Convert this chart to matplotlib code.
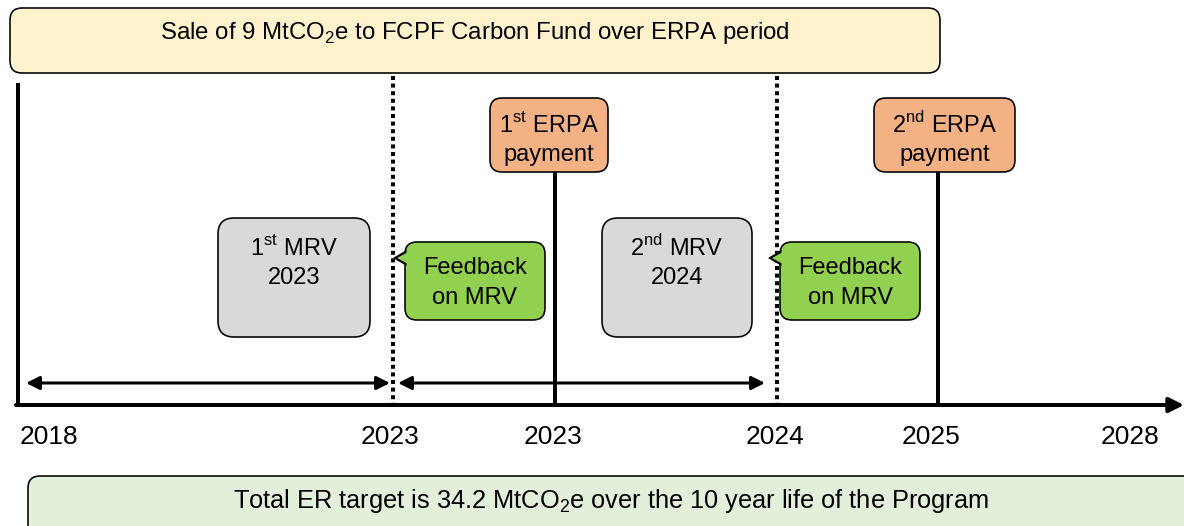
import matplotlib
matplotlib.use("Agg")
import matplotlib.pyplot as plt
from matplotlib.patches import FancyBboxPatch, Polygon, FancyArrowPatch

FONT = ["Liberation Sans", "DejaVu Sans"]
plt.rcParams["font.family"] = FONT
plt.rcParams["mathtext.fontset"] = "custom"
plt.rcParams["mathtext.rm"] = "Liberation Sans"

# timeline content
year_labels = ["2018", "2023", "2023", "2024", "2025", "2028"]
top_text = r"Sale of 9 MtCO$_{\mathrm{2}}$e to FCPF Carbon Fund over ERPA period"
bottom_text = r"Total ER target is 34.2 MtCO$_{\mathrm{2}}$e over the 10 year life of the Program"
payment_texts = [r"1$^{\mathrm{st}}$ ERPA" + "\npayment", r"2$^{\mathrm{nd}}$ ERPA" + "\npayment"]
mrv_texts = [r"1$^{\mathrm{st}}$ MRV" + "\n2023", r"2$^{\mathrm{nd}}$ MRV" + "\n2024"]
feedback_texts = ["Feedback\non MRV", "Feedback\non MRV"]

# layout (pixel coordinates)
W, H = 1184, 526
tick_x = [20, 390, 553, 775, 931, 1130]
tick_ha = ["left", "center", "center", "center", "center", "center"]
axis_y = 405
dotted_x = [393, 777]
payment_x = [555, 938]
payment_boxes = [(490, 98, 118, 74), (874, 98, 141, 74)]
mrv_boxes = [(218, 218, 152, 119), (602, 218, 150, 119)]
feedback_boxes = [(405, 242, 140, 78), (780, 242, 140, 78)]
span_arrows = [(26, 390), (398, 765)]

ORANGE = "#F4B183"
GREY = "#D9D9D9"
GREEN = "#92D050"
YELLOW = "#FFF2CC"
LIGHTGREEN = "#E2EFDA"

px = 72 / 100  # points per pixel

fig = plt.figure(figsize=(W / 100, H / 100), dpi=100)
ax = fig.add_axes([0, 0, 1, 1])
ax.set_xlim(0, W)
ax.set_ylim(H, 0)
ax.axis("off")


def rbox(x, y, w, h, color, r=12, z=3):
    p = FancyBboxPatch((x, y), w, h, boxstyle=f"round,pad=0,rounding_size={r}",
                       fc=color, ec="black", lw=1.6 * px, zorder=z)
    ax.add_patch(p)
    return p


# top banner
rbox(10, 8, 930, 65, YELLOW)
ax.text(475, 33, top_text, ha="center", va="center", fontsize=17.3, zorder=4)

# bottom banner
rbox(28, 476, 1200, 70, LIGHTGREEN)
ax.text(611, 501, bottom_text, ha="center", va="center", fontsize=18.3, zorder=4)

# main axis
ax.plot([18, 18], [83, axis_y + 2], color="black", lw=4 * px, solid_capstyle="butt", zorder=2)
ax.add_patch(FancyArrowPatch((16, axis_y), (1184, axis_y), arrowstyle="-|>",
                             mutation_scale=22, lw=4 * px, color="black", zorder=2,
                             shrinkA=0, shrinkB=0))

# dotted separators
for x in dotted_x:
    ax.plot([x, x], [76, 410], color="black", lw=4 * px, linestyle=(0, (1, 0.9)),
            dash_capstyle="butt", zorder=2)

# payment stems
for x in payment_x:
    ax.plot([x, x], [170, axis_y], color="black", lw=4 * px, solid_capstyle="butt", zorder=2)

# span arrows
for x0, x1 in span_arrows:
    ax.add_patch(FancyArrowPatch((x0, 383), (x1, 383), arrowstyle="<|-|>",
                                 mutation_scale=20, lw=3 * px, color="black", zorder=2,
                                 shrinkA=0, shrinkB=0))

# year labels
for lab, x, ha in zip(year_labels, tick_x, tick_ha):
    ax.text(x, 437, lab, ha=ha, va="center", fontsize=19, zorder=4)

# payment boxes
for (x, y, w, h), t in zip(payment_boxes, payment_texts):
    rbox(x, y, w, h, ORANGE)
    ax.text(x + w / 2, y + h / 2 + 4, t, ha="center", va="center", fontsize=17,
            linespacing=1.4, zorder=4)

# MRV boxes
for (x, y, w, h), t in zip(mrv_boxes, mrv_texts):
    rbox(x, y, w, h, GREY, r=16)
    ax.text(x + w / 2, y + 44, t, ha="center", va="center", fontsize=17,
            linespacing=1.4, zorder=4)

# feedback callouts
for (x, y, w, h), t in zip(feedback_boxes, feedback_texts):
    rbox(x, y, w, h, GREEN)
    ax.add_patch(Polygon([[x + 1.5, y + 8], [x - 12, y + 16], [x + 1.5, y + 24]],
                         closed=True, fc="black", ec="black", lw=0, zorder=3))
    ax.add_patch(Polygon([[x + 3, y + 10], [x - 8, y + 16], [x + 3, y + 22]],
                         closed=True, fc=GREEN, ec="none", zorder=3))
    ax.text(x + w / 2, y + h / 2 + 2, t, ha="center", va="center", fontsize=17,
            linespacing=1.45, zorder=4)

fig.savefig("out.png", dpi=100)
